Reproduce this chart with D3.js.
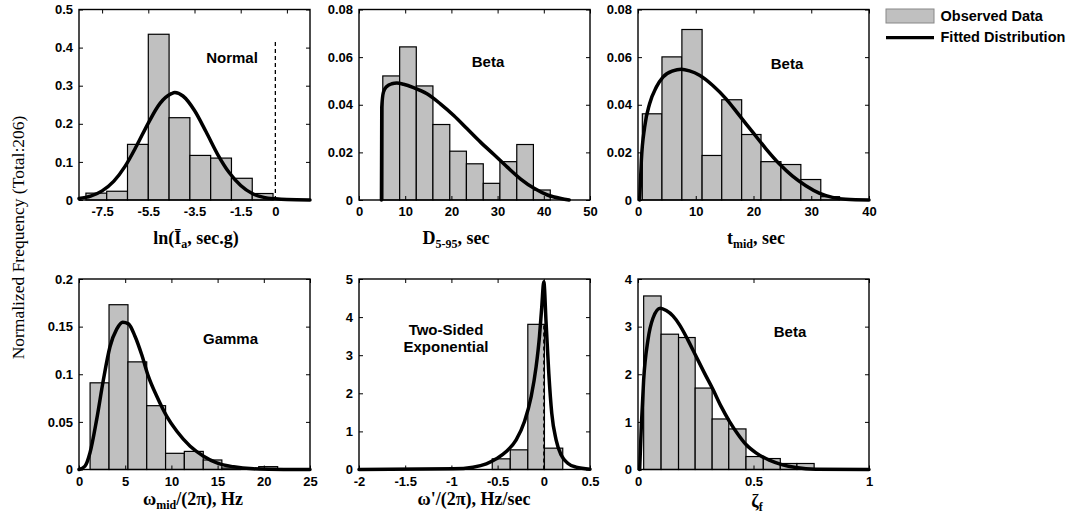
<!DOCTYPE html>
<html>
<head>
<meta charset="utf-8">
<script src="https://cdn.jsdelivr.net/npm/d3@7"></script>
<style>
  body { margin: 0; background: #fff; }
  svg { display: block; }
  .tick text { font-family: "Liberation Sans", Arial, sans-serif; font-weight: bold; font-size: 13px; fill: #000; }
  .tick line { stroke: #000; stroke-width: 1; }
  .note { font-family: "Liberation Sans", Arial, sans-serif; font-weight: bold; font-size: 15px; }
  .title { font-family: "Liberation Serif", "Times New Roman", serif; font-weight: bold; font-size: 18px; }
</style>
</head>
<body>
<svg width="1070" height="519"></svg>
<script>
// ---- data ----
// ln(Ia)
const lnIaEdges = [-8.2, -7.3, -6.4, -5.5, -4.6, -3.7, -2.8, -1.9, -1.0, -0.1];
const lnIaFreq = [0.018, 0.023, 0.146, 0.435, 0.216, 0.117, 0.110, 0.057, 0.017];
const lnIaFit = [[-8.5, 0.004], [-8, 0.010], [-7.5, 0.024], [-7, 0.049], [-6.5, 0.089], [-6, 0.143],
  [-5.5, 0.202], [-5, 0.253], [-4.5, 0.279], [-4.35, 0.282], [-4, 0.273], [-3.5, 0.235], [-3, 0.179],
  [-2.5, 0.120], [-2, 0.072], [-1.5, 0.038], [-1, 0.017], [-0.5, 0.007], [0, 0.003], [0.5, 0.001], [1.5, 0]];
const lnIaTicks = [-7.5, -5.5, -3.5, -1.5, 0.5];
const lnIaLabels = [-7.5, -5.5, -3.5, -1.5, 0];
const lnIaYTicks = [0, 0.1, 0.2, 0.3, 0.4, 0.5];
const lnIaZero = [0, 0.42];

// D5-95
const durEdges = [5.15, 8.8, 12.4, 16.0, 19.65, 23.25, 26.9, 30.5, 34.15, 37.75, 41.4];
const durFreq = [0.0521, 0.0643, 0.0479, 0.0317, 0.0205, 0.0152, 0.0070, 0.0161, 0.0233, 0.0042];
const durFit = [[4.86, 0], [4.93, 0.039], [5.29, 0.0453], [6.01, 0.0477], [7.1, 0.0488], [8.19, 0.0491],
  [9.64, 0.0486], [11.81, 0.0472], [14.71, 0.0446], [17.61, 0.0404], [20.51, 0.0355], [23.41, 0.0299],
  [26.3, 0.0243], [29.2, 0.0191], [32.1, 0.0138], [35.0, 0.0088], [37.9, 0.0049], [40.8, 0.0021],
  [43.7, 0.0006], [45.5, 0]];
const durTicks = [0, 10, 20, 30, 40, 50];
const smallYTicks = [0, 0.02, 0.04, 0.06, 0.08];

// t_mid
const tmidEdges = [0.75, 4.15, 7.6, 11.1, 14.5, 17.95, 21.3, 24.75, 28.2, 31.65, 34.9];
const tmidFreq = [0.0362, 0.0601, 0.0716, 0.0187, 0.0421, 0.0275, 0.0161, 0.0149, 0.0086, 0.0014];
const tmidFit = [[0.29, 0], [0.58, 0.0166], [1.15, 0.0306], [2.01, 0.0404], [3.17, 0.0474], [4.32, 0.0516],
  [6.04, 0.0542], [7.48, 0.0549], [8.92, 0.0542], [10.65, 0.0524], [12.95, 0.0481], [15.25, 0.0425],
  [17.55, 0.0355], [19.86, 0.0285], [22.16, 0.0215], [24.46, 0.0152], [26.76, 0.0100], [29.06, 0.0060],
  [31.37, 0.0029], [33.67, 0.0011], [35.97, 0.0003], [40, 0]];
const tmidTicks = [0, 10, 20, 30, 40];

// omega_mid
const wmidEdges = [1.2, 3.25, 5.3, 7.33, 9.37, 11.4, 13.45, 15.46, 17.46, 19.45, 21.5];
const wmidFreq = [0.091, 0.173, 0.113, 0.067, 0.017, 0.019, 0.010, 0.0015, 0, 0.003];
const wmidFit = [[0, 0], [0.65, 0.0035], [1.19, 0.0175], [1.91, 0.0524], [2.64, 0.0942], [3.36, 0.1291],
  [4.08, 0.1473], [4.73, 0.1546], [5.35, 0.1529], [6.07, 0.1396], [6.79, 0.1204], [7.51, 0.0977],
  [8.42, 0.0768], [9.5, 0.0558], [10.59, 0.0401], [12.03, 0.0244], [13.48, 0.0140], [14.92, 0.0070],
  [16.73, 0.0028], [18.89, 0.0007], [22.15, 0], [25, 0]];
const wmidTicks = [0, 5, 10, 15, 20, 25];
const wmidYTicks = [0, 0.05, 0.1, 0.15, 0.2];

// omega'
const wdotEdges = [-0.558, -0.363, -0.173, 0.007, 0.205];
const wdotFreq = [0.28, 0.516, 3.81, 0.56];
const wdotFit = [[-2, 0], [-0.982, 0.017], [-0.766, 0.061], [-0.622, 0.149], [-0.514, 0.28], [-0.406, 0.47],
  [-0.299, 0.78], [-0.209, 1.26], [-0.137, 1.91], [-0.083, 2.70], [-0.047, 3.49], [-0.022, 4.27], [0, 4.93],
  [0.025, 3.84], [0.054, 2.53], [0.086, 1.48], [0.133, 0.78], [0.187, 0.385], [0.259, 0.166],
  [0.349, 0.061], [0.5, 0.009]];
const wdotTicks = [-2, -1.5, -1, -0.5, 0, 0.5];
const wdotYTicks = [0, 1, 2, 3, 4, 5];
const wdotZero = [0, 3.8];

// zeta_f
const zetaEdges = [0.0245, 0.1, 0.1755, 0.2475, 0.321, 0.393, 0.4675, 0.5425, 0.616, 0.688, 0.7625];
const zetaFreq = [3.644, 2.841, 2.771, 1.710, 1.061, 0.852, 0.272, 0.230, 0.126, 0.126];
const zetaFit = [[0.0072, 0], [0.0144, 0.908], [0.0245, 1.885], [0.0432, 2.723], [0.0647, 3.176],
  [0.0964, 3.386], [0.1223, 3.337], [0.1511, 3.225], [0.1799, 3.037], [0.2158, 2.723], [0.2518, 2.373],
  [0.2878, 2.024], [0.3237, 1.689], [0.3597, 1.326], [0.3957, 1.012], [0.4317, 0.747], [0.4676, 0.524],
  [0.5108, 0.349], [0.5683, 0.195], [0.6259, 0.098], [0.6835, 0.042], [0.7698, 0.007], [1, 0]];
const zetaTicks = [0, 0.5, 1];
const zetaYTicks = [0, 1, 2, 3, 4];

// ---- panels ----
const svg = d3.select("svg");
const W = 231, H = 190.5;

const panels = [
  { left: 79, top: 9.5, edges: lnIaEdges, freq: lnIaFreq, fit: lnIaFit, xDom: [-8.5, 1.5], yDom: [0, 0.5],
    xTicks: lnIaTicks, xLabels: lnIaLabels, yTicks: lnIaYTicks, zero: lnIaZero,
    note: ["Normal"], noteX: 153, noteY: 53, titleX: 117, titleY: 234.5,
    title: [["ln(Ī", 0], ["a", 1], [", sec.g)", 0]] },
  { left: 359, top: 9.5, edges: durEdges, freq: durFreq, fit: durFit, xDom: [0, 50], yDom: [0, 0.08],
    xTicks: durTicks, xLabels: durTicks, yTicks: smallYTicks,
    note: ["Beta"], noteX: 129, noteY: 57, titleX: 97, titleY: 234.5,
    title: [["D", 0], ["5-95", 1], [", sec", 0]] },
  { left: 638, top: 9.5, edges: tmidEdges, freq: tmidFreq, fit: tmidFit, xDom: [0, 40], yDom: [0, 0.08],
    xTicks: tmidTicks, xLabels: tmidTicks, yTicks: smallYTicks,
    note: ["Beta"], noteX: 149, noteY: 59, titleX: 118, titleY: 234.5,
    title: [["t", 0], ["mid", 1], [", sec", 0]] },
  { left: 79, top: 279, edges: wmidEdges, freq: wmidFreq, fit: wmidFit, xDom: [0, 25], yDom: [0, 0.2],
    xTicks: wmidTicks, xLabels: wmidTicks, yTicks: wmidYTicks,
    note: ["Gamma"], noteX: 151.5, noteY: 64.5, titleX: 114, titleY: 226,
    title: [["ω", 0], ["mid", 1], ["/(2π), Hz", 0]] },
  { left: 359, top: 279, edges: wdotEdges, freq: wdotFreq, fit: wdotFit, xDom: [-2, 0.5], yDom: [0, 5],
    xTicks: wdotTicks, xLabels: wdotTicks, yTicks: wdotYTicks, zero: wdotZero,
    note: ["Two-Sided", "Exponential"], noteX: 87, noteY: 56, titleX: 115, titleY: 226,
    title: [["ω'/(2π), Hz/sec", 0]] },
  { left: 638, top: 279, edges: zetaEdges, freq: zetaFreq, fit: zetaFit, xDom: [0, 1], yDom: [0, 4],
    xTicks: zetaTicks, xLabels: zetaTicks, yTicks: zetaYTicks,
    note: ["Beta"], noteX: 152, noteY: 58, titleX: 119, titleY: 228,
    title: [["ζ", 0], ["f", 1]] }
];

const fmt = d => String(d);

panels.forEach(p => {
  const g = svg.append("g").attr("transform", `translate(${p.left},${p.top})`);
  const x = d3.scaleLinear().domain(p.xDom).range([0, W]);
  const y = d3.scaleLinear().domain(p.yDom).range([H, 0]);

  // histogram bars
  g.selectAll("rect.bar")
    .data(p.freq)
    .enter()
    .append("rect")
    .attr("class", "bar")
    .attr("x", (d, i) => x(p.edges[i]))
    .attr("width", (d, i) => x(p.edges[i + 1]) - x(p.edges[i]))
    .attr("y", d => y(d))
    .attr("height", d => H - y(d))
    .attr("fill", "#c0c0c0")
    .attr("stroke", "#000")
    .attr("stroke-width", 1.2);

  // dashed zero line
  if (p.zero) {
    g.append("line")
      .attr("x1", x(p.zero[0])).attr("x2", x(p.zero[0]))
      .attr("y1", y(0)).attr("y2", y(p.zero[1]))
      .attr("stroke", "#000")
      .attr("stroke-width", 1.3)
      .attr("stroke-dasharray", "4,3");
  }

  // fitted curve
  const line = d3.line()
    .x(d => x(d[0]))
    .y(d => y(d[1]))
    .curve(d3.curveMonotoneX);
  g.append("path")
    .datum(p.fit)
    .attr("d", line)
    .attr("fill", "none")
    .attr("stroke", "#000")
    .attr("stroke-width", 3.5)
    .attr("stroke-linejoin", "round")
    .attr("stroke-linecap", "round");

  // axes with inward ticks on all four sides
  const bottom = g.append("g").attr("transform", `translate(0,${H})`)
    .call(d3.axisBottom(x).tickValues(p.xLabels).tickFormat(fmt).tickSizeInner(-4).tickSizeOuter(0).tickPadding(7));
  g.append("g")
    .call(d3.axisTop(x).tickValues(p.xTicks).tickFormat("").tickSizeInner(-4).tickSizeOuter(0));
  g.append("g")
    .call(d3.axisLeft(y).tickValues(p.yTicks).tickFormat(fmt).tickSizeInner(-4).tickSizeOuter(0).tickPadding(6));
  g.append("g").attr("transform", `translate(${W},0)`)
    .call(d3.axisRight(y).tickValues(p.yTicks).tickFormat("").tickSizeInner(-4).tickSizeOuter(0));
  g.selectAll(".domain").remove();
  if (p.xLabels !== p.xTicks) bottom.selectAll(".tick line").remove();

  // frame
  g.append("rect")
    .attr("width", W).attr("height", H)
    .attr("fill", "none")
    .attr("stroke", "#000")
    .attr("stroke-width", 1.4);

  // distribution name
  p.note.forEach((t, i) => {
    g.append("text")
      .attr("class", "note")
      .attr("x", p.noteX)
      .attr("y", p.noteY + i * 16.5)
      .attr("text-anchor", "middle")
      .text(t);
  });

  // axis title with subscripts
  const title = g.append("text")
    .attr("class", "title")
    .attr("x", p.titleX)
    .attr("y", H + p.titleY - H + 0)
    .attr("text-anchor", "middle");
  let shifted = 0;
  p.title.forEach(([t, sub]) => {
    const dy = sub ? 4 - shifted : -shifted;
    shifted = sub ? 4 : 0;
    title.append("tspan")
      .attr("dy", dy)
      .attr("font-size", sub ? 12 : null)
      .text(t);
  });
});

// shared y label
svg.append("text")
  .attr("transform", "translate(23.5,237.5) rotate(-90)")
  .attr("text-anchor", "middle")
  .style("font-family", '"Liberation Serif", "Times New Roman", serif')
  .style("font-size", "17.5px")
  .text("Normalized Frequency (Total:206)");

// legend
const leg = svg.append("g").attr("transform", "translate(886,9)");
leg.append("rect")
  .attr("width", 48).attr("height", 14)
  .attr("fill", "#c0c0c0")
  .attr("stroke", "#888")
  .attr("stroke-width", 1);
leg.append("line")
  .attr("x1", 0).attr("x2", 48)
  .attr("y1", 28.7).attr("y2", 28.7)
  .attr("stroke", "#000")
  .attr("stroke-width", 3.3);
leg.selectAll("text.leg")
  .data(["Observed Data", "Fitted Distribution"])
  .enter()
  .append("text")
  .attr("class", "leg")
  .attr("x", 54.5)
  .attr("y", (d, i) => 11.7 + i * 21.6)
  .style("font-family", '"Liberation Sans", Arial, sans-serif')
  .style("font-weight", "bold")
  .style("font-size", "14.5px")
  .text(d => d);
</script>
</body>
</html>
